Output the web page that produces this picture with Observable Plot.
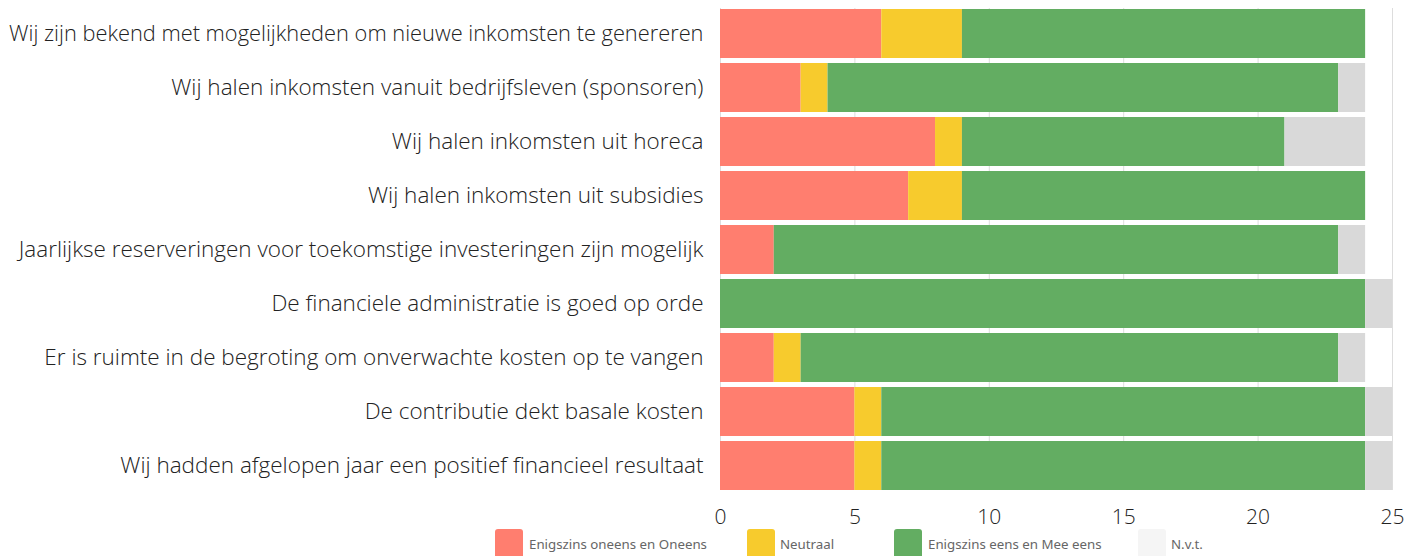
<!DOCTYPE html>
<html>
<head>
<meta charset="utf-8">
<script src="https://cdn.jsdelivr.net/npm/d3@7"></script>
<script src="https://cdn.jsdelivr.net/npm/@observablehq/plot@0.6"></script>
<style>
  html, body { margin: 0; padding: 0; background: #fff; overflow: hidden; }
  #wrap { position: relative; width: 1419px; height: 556px; }
  #wrap svg { position: absolute; top: 0; left: 0; }
  .legend { position: absolute; top: 529px; left: 0; width: 1419px; height: 40px; font-family: "Noto Sans", sans-serif; font-size: 13.3px; color: #666; }
  .sw { position: absolute; top: 0; width: 28px; height: 34px; border-radius: 3px; }
  .lbl { position: absolute; top: 6px; white-space: nowrap; }
</style>
</head>
<body>
<div id="wrap"></div>
<script>
const categories = [
  "Wij zijn bekend met mogelijkheden om nieuwe inkomsten te genereren",
  "Wij halen inkomsten vanuit bedrijfsleven (sponsoren)",
  "Wij halen inkomsten uit horeca",
  "Wij halen inkomsten uit subsidies",
  "Jaarlijkse reserveringen voor toekomstige investeringen zijn mogelijk",
  "De financiele administratie is goed op orde",
  "Er is ruimte in de begroting om onverwachte kosten op te vangen",
  "De contributie dekt basale kosten",
  "Wij hadden afgelopen jaar een positief financieel resultaat"
];
const seriesNames = ["Enigszins oneens en Oneens", "Neutraal", "Enigszins eens en Mee eens", "N.v.t."];
const oneens = [6, 3, 8, 7, 2, 0, 2, 5, 5];
const neutraal = [3, 1, 1, 2, 0, 0, 1, 1, 1];
const eens = [15, 19, 12, 15, 21, 24, 20, 18, 18];
const nvt = [0, 1, 3, 0, 1, 1, 1, 1, 1];
const xTicks = [0, 5, 10, 15, 20, 25];
const colors = ["#ff7e6f", "#f7cb2d", "#63ad62", "#d9d9d9"];
const legendColors = ["#ff7e6f", "#f7cb2d", "#63ad62", "#f5f5f5"];

const seriesValues = [oneens, neutraal, eens, nvt];
const rows = [];
seriesNames.forEach((s, si) => {
  categories.forEach((c, ci) => {
    rows.push({category: c, series: s, value: seriesValues[si][ci]});
  });
});

const chart = Plot.plot({
  width: 1419,
  height: 545,
  marginLeft: 720,
  marginRight: 27,
  marginTop: 8,
  marginBottom: 55,
  style: {fontFamily: "'Open Sans', sans-serif", fontWeight: 300, color: "#222", background: "transparent", overflow: "visible"},
  x: {domain: [0, 25], ticks: xTicks, label: null, tickSize: 0, tickPadding: 19, tickFormat: d => String(d)},
  y: {domain: categories, label: null, tickSize: 0, tickPadding: 17, paddingInner: 0.1, paddingOuter: 0},
  color: {domain: seriesNames, range: colors},
  marks: [
    Plot.gridX(xTicks, {stroke: "#dddddd", strokeOpacity: 1, strokeWidth: 1}),
    Plot.barX(rows, {x: "value", y: "category", fill: "series", order: seriesNames}),
    Plot.axisX({ticks: xTicks, tickSize: 0, tickPadding: 19, fontSize: 21, fontWeight: 300, label: null, tickFormat: d => String(d)}),
    Plot.axisY({tickSize: 0, tickPadding: 17, fontSize: 22.5, fontWeight: 300, label: null})
  ]
});
// the first (longest) label is slightly condensed in the reference
chart.querySelectorAll("g[aria-label='y-axis tick label'] text").forEach(t => {
  if (t.textContent === categories[0]) t.setAttribute("font-size", "21.8");
});
document.getElementById("wrap").appendChild(chart);

const legend = document.createElement("div");
legend.className = "legend";
const swX = [495, 747, 894, 1138];
const txX = [529, 780, 928, 1171];
seriesNames.forEach((s, i) => {
  const sw = document.createElement("div");
  sw.className = "sw";
  sw.style.left = swX[i] + "px";
  sw.style.background = legendColors[i];
  legend.appendChild(sw);
  const t = document.createElement("div");
  t.className = "lbl";
  t.style.left = txX[i] + "px";
  t.textContent = s;
  legend.appendChild(t);
});
document.getElementById("wrap").appendChild(legend);
</script>
</body>
</html>
